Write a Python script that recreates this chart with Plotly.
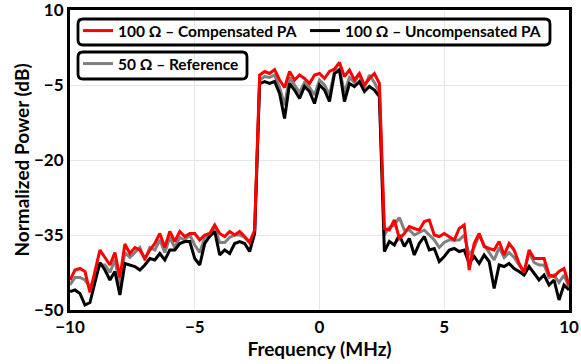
import plotly.graph_objects as go

# Frequency grid (MHz), 0.2 MHz spacing from -10 to 10
freq = [round(-10 + 0.2 * i, 1) for i in range(101)]

# 100 Ohm - Compensated PA (dB)
red_db = [
    -44.0, -42.0, -41.7, -42.3, -46.5, -42.3, -38.0, -39.5, -41.0, -38.5,
    -43.5, -36.8, -38.7, -37.5, -38.0, -39.7, -38.0, -36.7, -34.7, -37.5,
    -34.3, -36.3, -34.3, -35.3, -34.7, -34.7, -36.0, -35.0, -34.7, -33.0,
    -34.7, -35.3, -34.3, -35.0, -34.3, -35.3, -36.5, -34.0,
    -3.0, -2.3, -2.7, -1.9, -4.0, -5.5, -2.3, -4.0, -3.0, -3.7,
    -4.7, -3.0, -2.7, -3.7, -2.3, -1.8, -0.5, -3.3, -2.0, -4.0,
    -2.7, -5.0, -3.7, -2.7, -4.7,
    -33.7, -34.0, -32.0, -35.7, -34.7, -33.3, -33.7, -34.0, -32.3, -32.0,
    -35.0, -35.3, -34.7, -35.3, -36.0, -33.7, -33.0, -42.0, -36.7, -34.7,
    -37.3, -37.7, -38.0, -36.3, -39.0, -36.7, -38.0, -40.7, -42.5, -38.0,
    -39.7, -39.7, -39.7, -43.0, -43.3, -42.3, -41.7, -45.0,
]

# 100 Ohm - Uncompensated PA (dB)
black_db = [
    -46.3, -46.0, -46.7, -49.0, -48.5, -44.7, -40.5, -42.0, -44.0, -42.3,
    -47.0, -40.7, -41.0, -41.3, -42.0, -41.0, -39.7, -40.0, -38.7, -40.0,
    -38.0, -38.0, -36.7, -36.3, -36.3, -39.7, -41.0, -36.7, -35.3, -34.3,
    -39.0, -38.0, -38.7, -36.7, -36.3, -36.7, -38.3, -34.7,
    -4.7, -4.3, -4.7, -4.3, -6.7, -11.7, -4.7, -6.0, -7.7, -5.3,
    -6.3, -8.7, -5.0, -6.0, -8.3, -2.7, -2.0, -8.3, -4.7, -5.3,
    -4.3, -6.3, -5.3, -6.0, -7.3,
    -38.3, -36.3, -37.0, -35.0, -37.3, -35.7, -39.0, -36.7, -35.3, -38.0,
    -37.7, -40.3, -39.3, -38.0, -37.7, -38.3, -38.0, -40.7, -39.3, -40.7,
    -39.0, -40.3, -45.7, -41.0, -41.3, -40.7, -41.7, -42.3, -43.0, -41.3,
    -42.7, -44.0, -43.0, -45.0, -44.0, -48.0, -45.0, -46.0,
]

# 50 Ohm - Reference (dB)
gray_db = [
    -45.0, -43.5, -43.5, -44.0, -45.5, -43.5, -41.0, -41.0, -42.5, -40.0,
    -45.0, -38.5, -39.5, -38.5, -37.5, -40.0, -37.5, -38.0, -36.0, -38.5,
    -35.5, -37.5, -35.5, -36.0, -35.0, -37.0, -38.5, -35.5, -35.0, -33.5,
    -36.5, -36.5, -35.5, -35.0, -35.0, -35.5, -36.5, -34.5,
    -4.0, -3.3, -3.5, -3.0, -5.5, -9.0, -3.5, -5.0, -6.5, -4.5,
    -5.5, -7.0, -4.0, -5.0, -7.0, -2.3, -1.8, -6.5, -3.5, -4.5,
    -2.8, -5.5, -3.0, -4.5, -6.5,
    -35.0, -33.5, -33.0, -31.5, -34.0, -34.0, -35.0, -34.5, -34.0, -35.0,
    -36.0, -37.5, -36.5, -36.0, -36.0, -36.0, -35.0, -39.0, -37.5, -35.0,
    -37.0, -38.5, -40.0, -37.5, -39.5, -38.5, -39.5, -41.0, -42.5, -38.5,
    -40.5, -41.0, -41.0, -43.5, -43.0, -44.5, -43.0, -45.5,
]

x_ticks = [-10, -5, 0, 5, 10]
y_ticks = [-50, -35, -20, -5, 10]

W, H = 581, 364
ML, MR, MT, MB = 70, 12, 10, 54
PW, PH = W - ML - MR, H - MT - MB

FONT = "Lato, 'Open Sans', sans-serif"


def px(X):
    return (X - ML) / PW


def py(Y):
    return (MT + PH - Y) / PH


def rounded_box(x0, y0, x1, y1, r):
    def P(X, Y):
        return f"{px(X):.5f},{py(Y):.5f}"
    return (
        f"M {P(x0 + r, y0)} L {P(x1 - r, y0)} Q {P(x1, y0)} {P(x1, y0 + r)} "
        f"L {P(x1, y1 - r)} Q {P(x1, y1)} {P(x1 - r, y1)} "
        f"L {P(x0 + r, y1)} Q {P(x0, y1)} {P(x0, y1 - r)} "
        f"L {P(x0, y0 + r)} Q {P(x0, y0)} {P(x0 + r, y0)} Z"
    )


fig = go.Figure()
fig.add_trace(go.Scatter(x=freq, y=gray_db, mode="lines", name="50 Ω – Reference",
                         line=dict(color="#808080", width=3), legend="legend2", showlegend=True))
fig.add_trace(go.Scatter(x=freq, y=black_db, mode="lines", name="100 Ω – Uncompensated PA",
                         line=dict(color="#000000", width=3), legend="legend3", showlegend=True))
fig.add_trace(go.Scatter(x=freq, y=red_db, mode="lines", name="100 Ω – Compensated PA",
                         line=dict(color="#ff0000", width=3), legend="legend", showlegend=True))

axis_common = dict(
    showline=True, linecolor="black", linewidth=3, mirror=True,
    showgrid=True, gridcolor="#e6e6e6", gridwidth=1,
    zeroline=False, ticks="", automargin=False, ticklabeloverflow="allow",
    tickfont=dict(family=FONT, size=17, color="black", weight="bold"),
)

legend_font = dict(family=FONT, size=15.5, color="black", weight="bold")
legend_common = dict(orientation="h", xanchor="left", yanchor="top",
                     bgcolor="rgba(255,255,255,0)", borderwidth=0,
                     font=legend_font, itemwidth=30, visible=True)

fig.update_layout(
    width=W, height=H,
    showlegend=True,
    margin=dict(l=ML, r=MR, t=MT, b=MB, autoexpand=False),
    paper_bgcolor="white", plot_bgcolor="white",
    font=dict(family=FONT, color="black"),
    xaxis=dict(range=[-10, 10], tickvals=x_ticks,
               title=dict(text="<b>Frequency (MHz)</b>", font=dict(family=FONT, size=19, color="black"), standoff=0),
               **axis_common),
    yaxis=dict(range=[-50, 10], tickvals=y_ticks,
               title=dict(text="<b>Normalized Power (dB)</b>", font=dict(family=FONT, size=19, color="black"), standoff=0),
               **axis_common),
    legend=dict(x=px(78), y=py(14), **legend_common),
    legend3=dict(x=px(305), y=py(14), **legend_common),
    legend2=dict(x=px(78), y=py(47), **legend_common),
    shapes=[
        dict(type="path", xref="paper", yref="paper", path=rounded_box(78, 19, 550, 45, 5),
             line=dict(color="black", width=2.8), fillcolor="rgba(0,0,0,0)", layer="above"),
        dict(type="path", xref="paper", yref="paper", path=rounded_box(78, 52, 247, 79, 5),
             line=dict(color="black", width=2.8), fillcolor="rgba(0,0,0,0)", layer="above"),
    ],
)

fig.write_html("out.html")
